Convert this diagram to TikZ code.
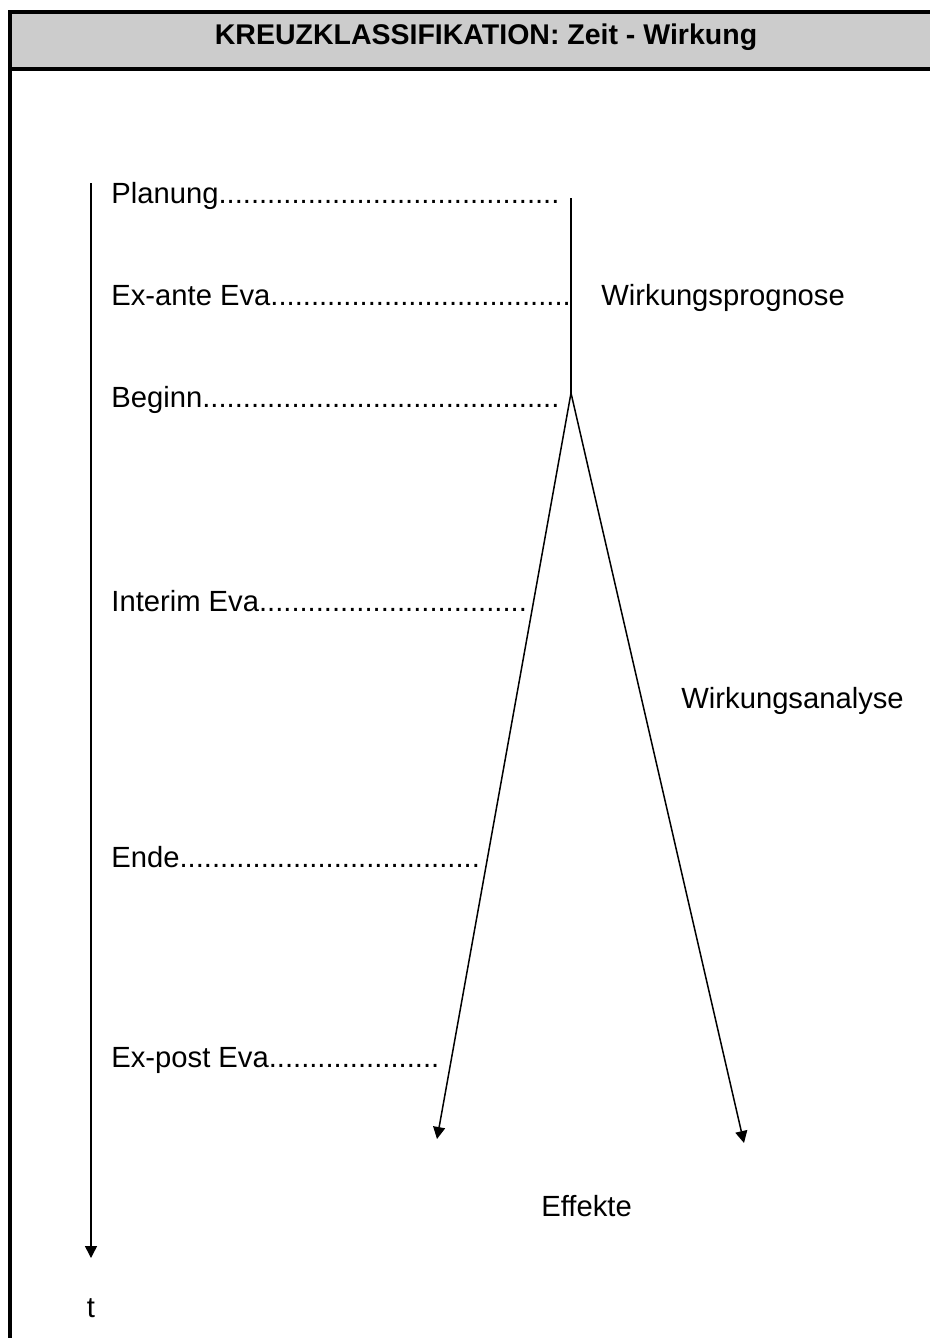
\documentclass[tikz,border=0pt]{standalone}
\usepackage{fontspec}
\setmainfont{Liberation Sans}
\usetikzlibrary{arrows.meta}
\definecolor{hdrgray}{RGB}{204,204,204}
\newcommand{\rdots}[1]{\ifnum#1>0 .\expandafter\rdots\expandafter{\the\numexpr#1-1\relax}\fi}
\begin{document}
\begin{tikzpicture}[x=0.5pt,y=-0.5pt,
  lbl/.style={anchor=base west, inner sep=0pt, font=\fontsize{14.6}{17}\selectfont},
  conn/.style={line width=0.75pt},
  arr/.style={conn, -{Triangle[length=6pt,width=6pt]}},
  frame/.style={line width=2pt}]
\useasboundingbox (0,0) rectangle (930,1338);
\begin{scope}
\clip (0,0) rectangle (930,1338);
\draw[frame, fill=hdrgray] (10,12) rectangle (990,69);
\draw[frame] (10,69) -- (10,1400);
\end{scope}
\node[anchor=base, inner sep=0pt, font=\bfseries\fontsize{14.25}{17}\selectfont] (title) at (486,45) {KREUZKLASSIFIKATION: Zeit - Wirkung};

% time axis
\coordinate (t0) at (91,183);
\coordinate (t1) at (91,1258);
\draw[arr] (t0) -- (t1);
\node[anchor=base, inner sep=0pt, font=\fontsize{14.6}{17}\selectfont] (tlab) at (91,1317) {t};

% labels
\node[lbl] (plan) at (111,203) {Planung\rdots{42}};
\node[lbl] (exante) at (111,305) {Ex-ante Eva\rdots{37}};
\node[lbl] (beginn) at (111,407) {Beginn\rdots{44}};
\node[lbl] (interim) at (111,611) {Interim Eva\rdots{33}};
\node[lbl] (ende) at (111,867) {Ende\rdots{37}};
\node[lbl] (expost) at (111,1067) {Ex-post Eva\rdots{21}};

% Wirkung lines
\coordinate (p0) at (571,198);
\coordinate (split) at (571,393);
\coordinate (e1) at (437,1139);
\coordinate (e2) at (744,1143);
\draw[conn] (p0) -- (split);
\draw[arr] (split) -- (e1);
\draw[arr] (split) -- (e2);

\node[lbl] (prog) at (601,305) {Wirkungsprognose};
\node[lbl] (anal) at (681,708) {Wirkungsanalyse};
\node[lbl] (eff) at (541,1216) {Effekte};
\end{tikzpicture}
\end{document}
